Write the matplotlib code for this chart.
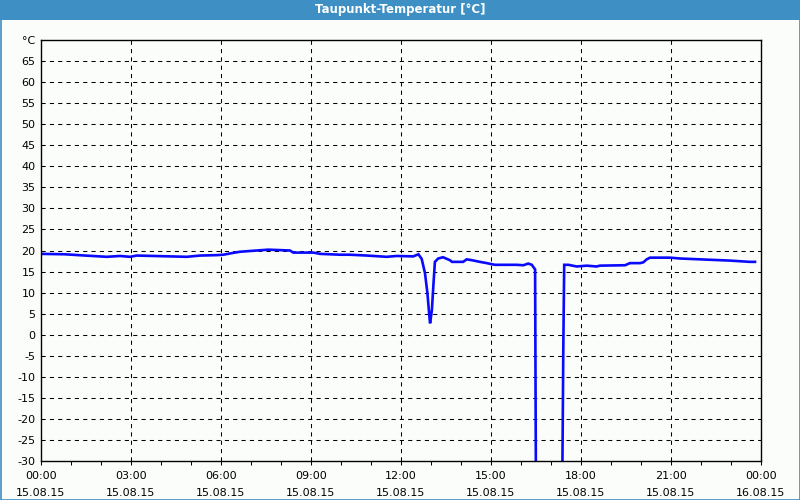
import numpy as np
import matplotlib
matplotlib.use("Agg")
import matplotlib.pyplot as plt
from matplotlib.patches import Rectangle

# hours since 15.08.15 00:00 and dew point in degC
hours = [0.0, 0.8, 1.47, 2.19, 2.63, 2.97, 3.19, 4.3, 4.86, 5.3, 5.86, 6.08,
         6.3, 6.63, 7.19, 7.58, 8.3, 8.41, 9.08, 9.3, 9.97, 10.3, 10.86,
         11.52, 11.86, 12.41, 12.58, 12.69, 12.8, 12.88, 12.95, 12.97,
         13.03, 13.08, 13.13, 13.24, 13.4, 13.63, 13.7, 14.07, 14.19, 14.36,
         14.63, 14.86, 15.13, 15.52, 15.86, 16.08, 16.24, 16.36, 16.47,
         16.50, 17.37, 17.39, 17.41, 17.44, 17.58, 17.86, 18.19, 18.52,
         18.63, 19.47, 19.63, 19.97, 20.08, 20.19, 20.3, 20.97, 21.3,
         22.3, 22.97, 23.63, 23.8]
dewpoint = [19.2, 19.1, 18.8, 18.5, 18.7, 18.5, 18.8, 18.6, 18.5, 18.8, 18.9,
            19.0, 19.3, 19.7, 20.0, 20.2, 20.0, 19.5, 19.5, 19.2, 19.0, 19.0,
            18.8, 18.5, 18.7, 18.6, 19.1, 18.0, 14.6, 9.9, 4.0, 2.7, 5.9,
            11.8, 17.3, 18.1, 18.4, 17.7, 17.3, 17.3, 17.9, 17.7, 17.3, 17.0,
            16.6, 16.6, 16.6, 16.5, 16.9, 16.6, 15.5, -40.0, -40.0, -22.6,
            -3.2, 16.6, 16.6, 16.2, 16.4, 16.2, 16.4, 16.5, 17.0, 17.0, 17.2,
            17.9, 18.3, 18.3, 18.1, 17.8, 17.6, 17.3, 17.3]

ytick_vals = list(range(-30, 70, 5))
xtick_hours = list(range(0, 25, 3))
xtick_labels = ["%02d:00\n15.08.15" % (h % 24) for h in xtick_hours[:-1]] + ["00:00\n16.08.15"]

bg = "#fbfdfb"
fig = plt.figure(figsize=(8, 5), dpi=100, facecolor=bg)
ax = fig.add_axes([41 / 800, 39 / 500, 720 / 800, 421 / 500])
ax.set_facecolor(bg)

ax.plot(hours, dewpoint, color="#0a0aff", linewidth=1.9, solid_joinstyle="miter")

ax.set_xlim(0, 24)
ax.set_ylim(-30, 70)

ax.set_yticks(ytick_vals + [70])
ax.set_yticklabels([str(v) for v in ytick_vals] + ["°C"], fontsize=8)
ax.tick_params(axis="y", length=0, pad=4)

ax.set_xticks(xtick_hours)
ax.set_xticklabels(xtick_labels, fontsize=8, linespacing=1.9)
ax.set_xticks(range(25), minor=True)
ax.tick_params(axis="x", which="both", length=3, width=0.75, pad=4)

# dashed grid, 1px lines with 3px dashes
for v in ytick_vals[1:]:
    ax.axhline(v, color="black", linewidth=0.75, linestyle=(0, (4, 4)), zorder=0)
for h in xtick_hours[1:-1]:
    ax.axvline(h, color="black", linewidth=0.75, linestyle=(0, (4, 4)), zorder=0)

for s in ax.spines.values():
    s.set_linewidth(1.0)
    s.set_color("black")

# title bar and window border
fig.patches.append(Rectangle((0, 480 / 500), 1, 20 / 500, transform=fig.transFigure,
                             facecolor="#3d8fc4", edgecolor="none", zorder=0))
fig.patches.append(Rectangle((0.5 / 800, 0.5 / 500), 799 / 800, 499 / 500,
                             transform=fig.transFigure, facecolor="none",
                             edgecolor="#3d8fc4", linewidth=1.2, zorder=5))
fig.text(0.5, 490 / 500, "Taupunkt-Temperatur [°C]", color="white", fontsize=8.5,
         fontweight="bold", ha="center", va="center")

fig.savefig("out.png", dpi=100, facecolor=bg)
